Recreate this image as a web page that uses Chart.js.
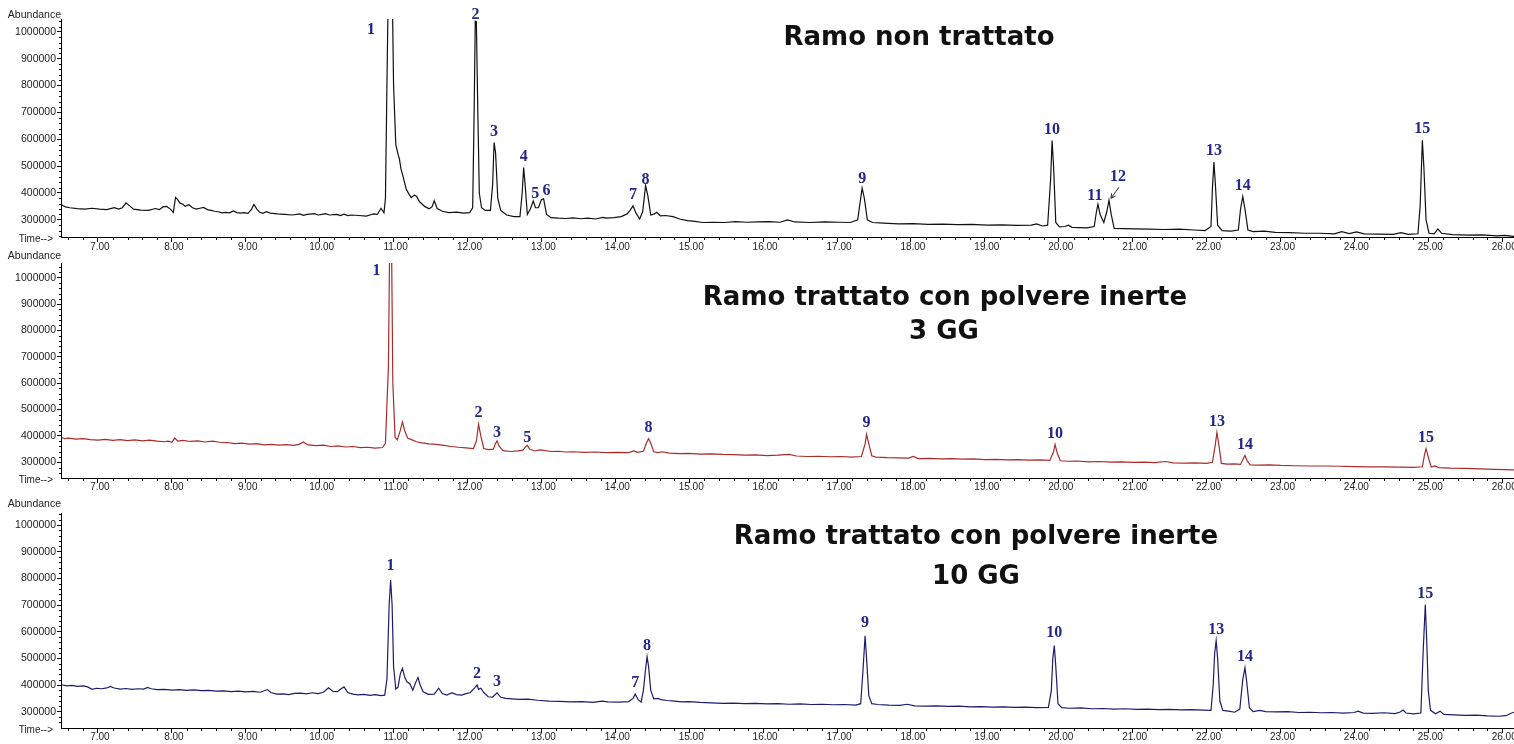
<!DOCTYPE html>
<html>
<head>
<meta charset="utf-8">
<script src="https://cdn.jsdelivr.net/npm/chart.js@4.4.1/dist/chart.umd.min.js"></script>
<style>
  html, body { margin: 0; padding: 0; background: #fff; overflow: hidden; }
  #page { position: relative; width: 1514px; height: 744px; overflow: hidden; background: #fff; }
  canvas { position: absolute; left: 0; }
  .title {
    position: absolute; transform: translate(-50%, -50%);
    font: bold 26px "DejaVu Sans", Verdana, sans-serif; color: #111;
    white-space: nowrap; line-height: 1;
  }
</style>
</head>
<body>
<div id="page">
  <canvas id="c1" width="1540" height="256" style="top:0;width:1540px;height:256px"></canvas>
  <canvas id="c2" width="1540" height="252" style="top:246px;width:1540px;height:252px"></canvas>
  <canvas id="c3" width="1540" height="250" style="top:494px;width:1540px;height:250px"></canvas>
  <div class="title" style="left:919px;top:36px">Ramo non trattato</div>
  <div class="title" style="left:945px;top:296px">Ramo trattato con polvere inerte</div>
  <div class="title" style="left:944px;top:330px">3 GG</div>
  <div class="title" style="left:976px;top:535px">Ramo trattato con polvere inerte</div>
  <div class="title" style="left:976px;top:575px">10 GG</div>
</div>
<script>
// axis ticks
const timeTicks = [7, 8, 9, 10, 11, 12, 13, 14, 15, 16, 17, 18, 19, 20, 21, 22, 23, 24, 25, 26];
const abundanceTicks = [300000, 400000, 500000, 600000, 700000, 800000, 900000, 1000000];

// untreated branch: [retention time (min), abundance]
const traceUntreated = [
  [6.51,355000],[6.56,348000],[6.62,345000],[6.72,342000],[6.82,340000],[6.92,343000],[7.02,340000],
  [7.12,338000],[7.22,345000],[7.28,340000],[7.33,345000],[7.38,363000],[7.43,352000],[7.48,340000],
  [7.58,336000],[7.68,335000],[7.78,342000],[7.83,338000],[7.88,348000],[7.93,350000],[7.98,340000],
  [8.02,328000],[8.05,383000],[8.08,375000],[8.11,362000],[8.15,358000],[8.18,350000],[8.23,356000],
  [8.28,345000],[8.33,340000],[8.38,343000],[8.43,346000],[8.48,338000],[8.53,335000],[8.58,332000],
  [8.63,330000],[8.68,326000],[8.73,328000],[8.78,326000],[8.83,333000],[8.88,327000],[8.93,325000],
  [8.98,327000],[9.03,324000],[9.08,340000],[9.11,357000],[9.15,340000],[9.19,328000],[9.23,324000],
  [9.28,330000],[9.33,325000],[9.43,322000],[9.53,320000],[9.63,318000],[9.73,322000],[9.78,317000],
  [9.83,320000],[9.93,323000],[9.98,318000],[10.03,320000],[10.08,323000],[10.13,318000],[10.23,320000],
  [10.28,316000],[10.33,321000],[10.38,316000],[10.43,318000],[10.53,316000],[10.63,314000],[10.68,318000],
  [10.73,322000],[10.78,320000],[10.83,343000],[10.87,326000],[10.89,380000],[10.91,800000],[10.93,1200000],
  [10.98,1200000],[11.00,800000],[11.03,580000],[11.06,545000],[11.08,525000],[11.10,490000],[11.13,460000],
  [11.17,415000],[11.21,395000],[11.24,383000],[11.28,392000],[11.31,388000],[11.35,368000],[11.42,350000],
  [11.48,341000],[11.52,348000],[11.55,371000],[11.59,342000],[11.66,332000],[11.75,327000],[11.85,329000],
  [11.95,325000],[12.03,327000],[12.07,345000],[12.09,700000],[12.105,1040000],[12.12,1038000],[12.14,700000],
  [12.16,400000],[12.19,345000],[12.24,335000],[12.31,335000],[12.34,430000],[12.36,588000],[12.38,550000],
  [12.41,380000],[12.45,335000],[12.53,318000],[12.63,312000],[12.71,312000],[12.74,400000],[12.76,495000],
  [12.78,430000],[12.81,320000],[12.85,340000],[12.89,370000],[12.92,345000],[12.96,345000],[13.00,375000],
  [13.03,378000],[13.07,320000],[13.13,308000],[13.23,306000],[13.33,305000],[13.43,307000],[13.53,304000],
  [13.63,306000],[13.73,303000],[13.83,309000],[13.88,306000],[13.98,308000],[14.08,312000],[14.16,322000],
  [14.20,335000],[14.24,352000],[14.28,325000],[14.33,303000],[14.37,330000],[14.41,427000],[14.44,390000],
  [14.48,318000],[14.53,322000],[14.56,328000],[14.61,315000],[14.68,316000],[14.78,312000],[14.88,302000],
  [14.98,297000],[15.08,294000],[15.18,290000],[15.33,291000],[15.48,290000],[15.63,293000],[15.78,291000],
  [15.93,292000],[16.08,293000],[16.23,291000],[16.33,300000],[16.43,292000],[16.63,290000],[16.83,292000],
  [17.03,291000],[17.18,290000],[17.28,300000],[17.32,380000],[17.34,418000],[17.37,380000],[17.41,300000],
  [17.48,290000],[17.63,288000],[17.83,285000],[18.03,286000],[18.23,283000],[18.43,284000],[18.63,282000],
  [18.83,283000],[19.03,280000],[19.23,281000],[19.43,279000],[19.63,280000],[19.70,285000],[19.78,277000],
  [19.85,280000],[19.89,450000],[19.91,595000],[19.93,500000],[19.96,290000],[20.01,274000],[20.08,275000],
  [20.13,280000],[20.18,272000],[20.28,271000],[20.38,270000],[20.48,275000],[20.51,330000],[20.53,358000],
  [20.56,320000],[20.61,290000],[20.65,330000],[20.68,373000],[20.71,320000],[20.75,268000],[20.88,267000],
  [21.03,266000],[21.23,265000],[21.43,264000],[21.63,265000],[21.83,262000],[21.98,260000],[22.06,275000],
  [22.08,420000],[22.10,515000],[22.12,430000],[22.15,280000],[22.21,260000],[22.33,258000],[22.43,262000],
  [22.46,340000],[22.49,387000],[22.52,340000],[22.56,262000],[22.63,256000],[22.78,258000],[22.93,253000],
  [23.13,252000],[23.33,250000],[23.53,250000],[23.73,248000],[23.83,256000],[23.93,249000],[24.03,255000],
  [24.13,248000],[24.33,247000],[24.53,246000],[24.63,252000],[24.73,246000],[24.86,248000],[24.89,350000],
  [24.92,596000],[24.94,500000],[24.97,300000],[25.01,250000],[25.08,248000],[25.13,266000],[25.18,250000],
  [25.33,245000],[25.53,243000],[25.73,244000],[25.93,240000],[26.03,242000],[26.16,238000]
];

// branch treated with inert powder, 3 days
const trace3Days = [
  [6.51,393000],[6.55,390000],[6.60,392000],[6.70,388000],[6.80,390000],[6.90,386000],[7.00,384000],
  [7.10,387000],[7.20,383000],[7.30,386000],[7.40,382000],[7.50,385000],[7.60,381000],[7.70,384000],
  [7.80,380000],[7.90,378000],[7.95,380000],[8.00,376000],[8.04,392000],[8.08,380000],[8.15,383000],
  [8.25,379000],[8.35,381000],[8.45,377000],[8.55,380000],[8.65,376000],[8.75,375000],[8.85,371000],
  [8.95,373000],[9.05,369000],[9.15,371000],[9.25,366000],[9.35,368000],[9.45,365000],[9.55,367000],
  [9.65,364000],[9.72,368000],[9.78,377000],[9.84,366000],[9.95,363000],[10.05,365000],[10.15,360000],
  [10.25,362000],[10.35,358000],[10.45,360000],[10.55,356000],[10.65,357000],[10.75,354000],[10.85,356000],
  [10.89,372000],[10.91,520000],[10.93,660000],[10.95,1200000],[10.97,1200000],[10.99,600000],[11.02,395000],
  [11.05,385000],[11.09,420000],[11.12,453000],[11.15,420000],[11.19,392000],[11.25,385000],[11.31,378000],
  [11.38,374000],[11.48,370000],[11.58,368000],[11.68,364000],[11.78,360000],[11.88,357000],[11.98,355000],
  [12.08,352000],[12.12,380000],[12.15,444000],[12.18,400000],[12.22,352000],[12.28,348000],[12.35,350000],
  [12.38,372000],[12.40,381000],[12.43,360000],[12.48,344000],[12.58,341000],[12.68,343000],[12.75,346000],
  [12.79,360000],[12.81,364000],[12.84,350000],[12.91,343000],[12.98,347000],[13.03,345000],[13.13,341000],
  [13.23,342000],[13.33,339000],[13.43,340000],[13.58,338000],[13.73,339000],[13.88,337000],[14.03,338000],
  [14.18,337000],[14.25,343000],[14.30,338000],[14.38,342000],[14.42,372000],[14.45,390000],[14.48,372000],
  [14.52,340000],[14.58,337000],[14.63,340000],[14.73,335000],[14.88,333000],[15.00,334000],[15.15,331000],
  [15.30,332000],[15.45,330000],[15.60,329000],[15.75,327000],[15.90,328000],[16.05,325000],[16.20,327000],
  [16.35,330000],[16.45,324000],[16.60,322000],[16.75,323000],[16.90,321000],[17.05,322000],[17.20,320000],
  [17.33,322000],[17.38,370000],[17.40,406000],[17.43,370000],[17.47,325000],[17.53,320000],[17.68,318000],
  [17.83,317000],[17.97,316000],[18.03,322000],[18.10,314000],[18.25,315000],[18.40,313000],[18.55,314000],
  [18.70,312000],[18.85,313000],[19.00,310000],[19.15,311000],[19.30,309000],[19.45,310000],[19.60,308000],
  [19.75,309000],[19.88,307000],[19.93,340000],[19.95,368000],[19.98,335000],[20.02,306000],[20.12,304000],
  [20.25,305000],[20.40,302000],[20.55,303000],[20.70,301000],[20.85,302000],[21.00,300000],[21.15,301000],
  [21.30,299000],[21.44,303000],[21.55,298000],[21.70,297000],[21.85,298000],[22.00,296000],[22.08,300000],
  [22.12,370000],[22.14,413000],[22.17,360000],[22.20,296000],[22.28,293000],[22.38,294000],[22.46,292000],
  [22.50,315000],[22.52,326000],[22.55,305000],[22.59,290000],[22.70,289000],[22.85,290000],[23.00,288000],
  [23.20,287000],[23.40,286000],[23.60,286000],[23.80,285000],[24.00,284000],[24.20,283000],[24.40,283000],
  [24.60,282000],[24.80,281000],[24.92,283000],[24.95,330000],[24.97,352000],[25.00,320000],[25.04,282000],
  [25.09,286000],[25.14,280000],[25.30,278000],[25.50,277000],[25.70,275000],[25.90,273000],[26.16,271000]
];

// branch treated with inert powder, 10 days
const trace10Days = [
  [6.51,401000],[6.58,397000],[6.65,399000],[6.72,395000],[6.80,397000],[6.86,393000],[6.92,384000],
  [6.98,388000],[7.05,386000],[7.12,389000],[7.17,395000],[7.22,389000],[7.30,385000],[7.38,387000],
  [7.46,384000],[7.54,386000],[7.62,385000],[7.67,391000],[7.72,386000],[7.80,383000],[7.90,384000],
  [8.00,381000],[8.10,383000],[8.20,380000],[8.30,382000],[8.40,379000],[8.50,380000],[8.60,377000],
  [8.70,378000],[8.80,375000],[8.90,377000],[9.00,374000],[9.10,376000],[9.20,373000],[9.29,383000],
  [9.34,372000],[9.42,366000],[9.50,367000],[9.58,364000],[9.66,369000],[9.74,370000],[9.82,367000],
  [9.90,371000],[9.98,368000],[10.05,373000],[10.12,390000],[10.18,376000],[10.24,375000],[10.29,386000],
  [10.33,393000],[10.38,372000],[10.45,366000],[10.52,363000],[10.60,365000],[10.68,361000],[10.75,364000],
  [10.83,360000],[10.88,362000],[10.91,420000],[10.94,700000],[10.96,794000],[10.98,700000],[11.00,470000],
  [11.03,385000],[11.06,392000],[11.09,440000],[11.12,463000],[11.15,430000],[11.18,412000],[11.22,405000],
  [11.26,381000],[11.30,410000],[11.33,428000],[11.36,400000],[11.40,375000],[11.47,365000],[11.55,366000],
  [11.61,388000],[11.66,368000],[11.72,362000],[11.79,371000],[11.85,364000],[11.92,362000],[11.98,368000],
  [12.04,372000],[12.10,390000],[12.13,400000],[12.15,384000],[12.18,388000],[12.22,372000],[12.28,356000],
  [12.34,355000],[12.40,371000],[12.45,354000],[12.52,350000],[12.60,348000],[12.70,346000],[12.82,347000],
  [12.95,343000],[13.10,340000],[13.25,339000],[13.40,337000],[13.55,338000],[13.70,335000],[13.82,340000],
  [13.90,337000],[14.05,336000],[14.18,338000],[14.24,350000],[14.27,366000],[14.31,345000],[14.35,336000],
  [14.38,380000],[14.41,460000],[14.43,506000],[14.45,470000],[14.48,380000],[14.52,348000],[14.58,350000],
  [14.62,345000],[14.70,342000],[14.80,340000],[14.90,337000],[15.00,338000],[15.15,335000],[15.30,333000],
  [15.45,331000],[15.60,332000],[15.75,330000],[15.90,331000],[16.05,329000],[16.20,330000],[16.35,328000],
  [16.50,329000],[16.65,327000],[16.80,328000],[16.95,326000],[17.10,327000],[17.25,325000],[17.32,330000],
  [17.35,450000],[17.38,585000],[17.40,500000],[17.43,360000],[17.47,330000],[17.55,327000],[17.70,325000],
  [17.85,324000],[17.95,328000],[18.05,322000],[18.20,321000],[18.35,322000],[18.50,320000],[18.65,321000],
  [18.80,318000],[18.95,319000],[19.10,317000],[19.25,318000],[19.40,316000],[19.55,317000],[19.70,315000],
  [19.86,316000],[19.90,380000],[19.92,500000],[19.94,548000],[19.96,470000],[19.99,330000],[20.04,315000],
  [20.15,313000],[20.30,314000],[20.45,311000],[20.60,312000],[20.75,310000],[20.90,311000],[21.05,309000],
  [21.20,310000],[21.35,308000],[21.50,309000],[21.65,307000],[21.80,308000],[21.95,306000],[22.06,305000],
  [22.09,400000],[22.11,520000],[22.13,566000],[22.15,500000],[22.18,340000],[22.22,305000],[22.30,302000],
  [22.38,298000],[22.45,310000],[22.49,420000],[22.52,465000],[22.54,420000],[22.58,315000],[22.63,300000],
  [22.72,305000],[22.80,300000],[22.95,299000],[23.10,300000],[23.25,297000],[23.40,298000],[23.55,296000],
  [23.70,297000],[23.85,295000],[24.00,297000],[24.05,302000],[24.12,295000],[24.25,294000],[24.40,296000],
  [24.55,293000],[24.62,299000],[24.66,306000],[24.70,295000],[24.80,292000],[24.90,295000],[24.93,520000],
  [24.96,702000],[24.98,560000],[25.00,380000],[25.03,305000],[25.10,292000],[25.16,302000],[25.21,290000],
  [25.35,288000],[25.50,286000],[25.65,287000],[25.80,284000],[25.95,283000],[26.05,285000],[26.12,294000],
  [26.16,298000]
];

// numbered peaks per run
const peaksUntreated = ['1','2','3','4','5','6','7','8','9','10','11','12','13','14','15'];
const peakTimesUntreated = [10.95, 12.11, 12.36, 12.76, 12.89, 13.03, 14.24, 14.41, 17.34, 19.91, 20.53, 20.68, 22.10, 22.49, 24.92];
const peaks3Days = ['1','2','3','5','8','9','10','13','14','15'];
const peakTimes3Days = [10.96, 12.15, 12.40, 12.81, 14.45, 17.40, 19.95, 22.14, 22.52, 24.97];
const peaks10Days = ['1','2','3','7','8','9','10','13','14','15'];
const peakTimes10Days = [10.96, 12.13, 12.40, 14.27, 14.43, 17.38, 19.94, 22.13, 22.52, 24.96];

const AXIS_FONT = '"Liberation Sans", Arial, sans-serif';
const LABEL_COLOR = '#25258a';

// axis captions and the small minor tick marks
const axisDecor = {
  id: 'axisDecor',
  afterDraw(chart, args, opts) {
    const { ctx, chartArea, scales: { x, y } } = chart;
    ctx.save();
    ctx.strokeStyle = '#000';
    ctx.lineWidth = 1;
    ctx.beginPath();
    for (let k = 33; k <= 130; k++) {
      if (k % 5 === 0) continue;
      const px = Math.round(x.getPixelForValue(k / 5)) + 0.5;
      ctx.moveTo(px, chartArea.bottom);
      ctx.lineTo(px, chartArea.bottom + 3);
    }
    for (let v = 240000; v <= 1040000; v += 20000) {
      if (v % 100000 === 0) continue;
      const py = Math.round(y.getPixelForValue(v)) + 0.5;
      if (py < chartArea.top || py > chartArea.bottom) continue;
      ctx.moveTo(chartArea.left - 2, py);
      ctx.lineTo(chartArea.left, py);
    }
    ctx.stroke();
    ctx.fillStyle = '#222';
    ctx.textAlign = 'right';
    ctx.textBaseline = 'middle';
    ctx.font = '10.5px ' + AXIS_FONT;
    ctx.fillText('Abundance', chartArea.left, chartArea.top - opts.abundanceGap);
    ctx.font = '10px ' + AXIS_FONT;
    ctx.fillText('Time-->', 53, chartArea.bottom + 2);
    ctx.restore();
  }
};

// numbered peak labels, placed above the highest point near each peak time
const peakMarks = {
  id: 'peakMarks',
  afterDatasetsDraw(chart, args, opts) {
    const { ctx, chartArea, scales: { x, y } } = chart;
    const pts = chart.data.datasets[0].data;
    ctx.save();
    ctx.font = 'bold 16px "Liberation Serif", "Times New Roman", serif';
    ctx.fillStyle = LABEL_COLOR;
    ctx.strokeStyle = '#222';
    ctx.lineWidth = 1;
    ctx.textAlign = 'center';
    ctx.textBaseline = 'middle';
    opts.names.forEach((name, i) => {
      const t = opts.times[i];
      const top = Math.max(...pts.filter(p => Math.abs(p.x - t) <= 0.03).map(p => p.y));
      const nudge = opts.nudge[name] || {};
      const peakX = x.getPixelForValue(t);
      const peakY = Math.max(y.getPixelForValue(top), chartArea.top);
      const lx = peakX + (nudge.dx || 0);
      const ly = peakY + (nudge.dy !== undefined ? nudge.dy : -11);
      ctx.fillText(name, lx, ly);
      if (nudge.arrow) {
        const x0 = lx + 1, y0 = ly + 10, x1 = peakX + 2, y1 = peakY - 2;
        const a = Math.atan2(y1 - y0, x1 - x0);
        ctx.beginPath();
        ctx.moveTo(x0, y0);
        ctx.lineTo(x1, y1);
        ctx.moveTo(x1, y1);
        ctx.lineTo(x1 - 5 * Math.cos(a - 0.5), y1 - 5 * Math.sin(a - 0.5));
        ctx.moveTo(x1, y1);
        ctx.lineTo(x1 - 5 * Math.cos(a + 0.5), y1 - 5 * Math.sin(a + 0.5));
        ctx.stroke();
      }
    });
    ctx.restore();
  }
};

function drawPanel(id, trace, color, names, times, view) {
  return new Chart(document.getElementById(id), {
    type: 'line',
    data: {
      datasets: [{
        data: trace.map(([t, v]) => ({ x: t, y: v })),
        borderColor: color,
        borderWidth: 1.2,
        pointRadius: 0,
        tension: 0,
        fill: false
      }]
    },
    options: {
      responsive: false,
      animation: false,
      events: [],
      layout: { padding: { top: view.top, left: 0, right: 26, bottom: 0 } },
      plugins: {
        legend: { display: false },
        tooltip: { enabled: false },
        axisDecor: { abundanceGap: view.abundanceGap },
        peakMarks: { names: names, times: times, nudge: view.nudge }
      },
      scales: {
        x: {
          type: 'linear',
          min: 6.5,
          max: 26.16,
          afterBuildTicks: s => { s.ticks = timeTicks.map(v => ({ value: v })); },
          afterFit: s => { s.height = view.axisHeight; },
          ticks: {
            callback: v => v.toFixed(2),
            color: '#222',
            font: { family: AXIS_FONT, size: 10 },
            padding: view.labelPad,
            labelOffset: 2,
            maxRotation: 0,
            autoSkip: false
          },
          grid: { drawOnChartArea: false, drawTicks: true, tickLength: 5, tickColor: '#000' },
          border: { color: '#000', width: 1 }
        },
        y: {
          min: view.yMin,
          max: view.yMax,
          afterBuildTicks: s => { s.ticks = abundanceTicks.map(v => ({ value: v })); },
          afterFit: s => { s.width = 61; },
          ticks: {
            callback: v => String(v),
            color: '#222',
            font: { family: AXIS_FONT, size: 10.5 },
            padding: 1
          },
          grid: { drawOnChartArea: false, drawTicks: true, tickLength: 4, tickColor: '#000' },
          border: { color: '#000', width: 1 }
        }
      }
    },
    plugins: [axisDecor, peakMarks]
  });
}

drawPanel('c1', traceUntreated, '#111', peaksUntreated, peakTimesUntreated, {
  top: 19, axisHeight: 19, yMin: 236000, yMax: 1048000, abundanceGap: 4, labelPad: -1,
  nudge: {
    '1': { dx: -19, dy: 11 },
    '2': { dy: -6 },
    '5': { dx: 2, dy: -7 },
    '6': { dx: 3, dy: -8 },
    '8': { dy: -6 },
    '9': { dy: -9 },
    '11': { dx: -3, dy: -8 },
    '12': { dx: 9, dy: -23, arrow: true }
  }
});

drawPanel('c2', trace3Days, '#a82c2c', peaks3Days, peakTimes3Days, {
  top: 17, axisHeight: 20, yMin: 240500, yMax: 1055700, abundanceGap: 7, labelPad: -2,
  nudge: {
    '1': { dx: -14, dy: 8 },
    '3': { dy: -8 },
    '5': { dy: -8 }
  }
});

drawPanel('c3', trace10Days, '#1c1c6c', peaks10Days, peakTimes10Days, {
  top: 19, axisHeight: 16, yMin: 238900, yMax: 1045000, abundanceGap: 9, labelPad: -2,
  nudge: {
    '1': { dy: -14 },
    '9': { dy: -13 },
    '10': { dy: -13 }
  }
});
</script>
</body>
</html>
